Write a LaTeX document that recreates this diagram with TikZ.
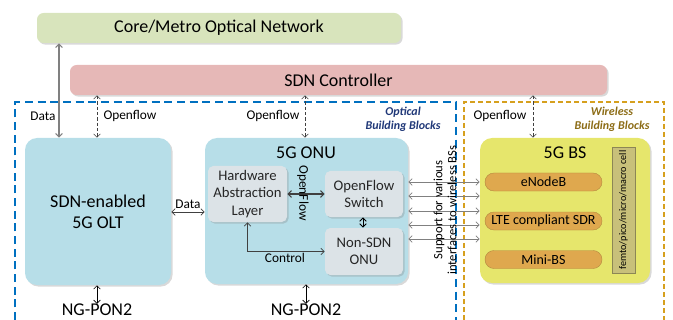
\documentclass[tikz,border=0pt]{standalone}
\usepackage{fontspec}
\setmainfont{Carlito}
\usetikzlibrary{arrows.meta, positioning, shadows, calc}
\definecolor{coregreen}{RGB}{216,228,188}
\definecolor{sdnpink}{RGB}{230,184,183}
\definecolor{ponblue}{RGB}{183,222,232}
\definecolor{blockgray}{RGB}{220,227,231}
\definecolor{bsyellow}{RGB}{230,230,108}
\definecolor{pillorange}{RGB}{223,168,78}
\definecolor{cellkhaki}{RGB}{200,192,122}
\definecolor{opticalblue}{RGB}{0,112,192}
\definecolor{wirelessgold}{RGB}{214,160,30}
\definecolor{opticaltext}{RGB}{32,56,120}
\definecolor{wirelesstext}{RGB}{140,108,22}
\definecolor{linegray}{RGB}{128,128,128}
\definecolor{linedark}{RGB}{64,64,64}

\tikzset{
  bigfont/.style={font=\fontsize{13.5}{15.5}\selectfont},
  midfont/.style={font=\fontsize{10}{11.5}\selectfont},
  blockfont/.style={font=\fontsize{11}{13}\selectfont},
  tagfont/.style={font=\fontsize{9}{10.5}\selectfont\bfseries\itshape},
  softshadow/.style={drop shadow={opacity=0.3, shadow xshift=1.2pt, shadow yshift=-1.2pt}},
  bar/.style={rounded corners=5pt, inner sep=0pt, minimum height=22.5pt, softshadow, bigfont},
  bigblock/.style={rounded corners=9pt, inner sep=0pt, softshadow, bigfont},
  subblock/.style={fill=blockgray, rounded corners=4pt, inner sep=0pt, align=center,
    minimum width=58.5pt, softshadow, blockfont, text=black!85},
  pill/.style={fill=pillorange, draw=pillorange!80!black, line width=0.3pt, rounded corners=6.7pt,
    inner sep=0pt, minimum width=87.75pt, minimum height=13.5pt, font=\fontsize{10.5}{12}\selectfont},
  tip/.style={{Straight Barb[length=2.5pt,width=5pt]}-{Straight Barb[length=2.5pt,width=5pt]}},
  dataline/.style={tip, draw=linegray, line width=0.9pt},
  flowline/.style={tip, draw=linedark, line width=0.5pt, dash pattern=on 2.5pt off 1.5pt},
  ifaceline/.style={tip, draw=linegray, line width=0.6pt},
  innerline/.style={tip, draw=linedark, line width=0.9pt},
  ponline/.style={tip, draw=black, line width=0.5pt},
  lbl/.style={midfont, inner sep=1pt},
}

\begin{document}
\begin{tikzpicture}[x=0.75pt, y=-0.75pt]
  \useasboundingbox (0,0) rectangle (673,320);

  % building block frames
  \draw[opticalblue, line width=1.1pt, dash pattern=on 6pt off 3.5pt]
    (15,320) -- (15,102) -- (456,102) -- (456,320);
  \draw[wirelessgold, line width=0.8pt, dash pattern=on 3.5pt off 2.5pt]
    (464,320) -- (464,102) -- (664,102) -- (664,320);
  \node[tagfont, text=opticaltext, align=center] (opticaltag) at (403,119) {Optical\\Building Blocks};
  \node[tagfont, text=wirelesstext, align=center] (wirelesstag) at (612,119) {Wireless\\Building Blocks};

  % top bars
  \node[bar, fill=coregreen, minimum width=273pt] (core) at (219,28) {Core/Metro Optical Network};
  \node[bar, fill=sdnpink, minimum width=402.75pt] (sdn) at (338.5,80) {SDN Controller};

  % OLT
  \node[bigblock, fill=ponblue, minimum width=109.5pt, minimum height=110.25pt, align=center] (olt) at (98,211.5) {SDN-enabled\\5G OLT};

  % ONU and its blocks
  \node[bigblock, fill=ponblue, minimum width=152.25pt, minimum height=109.5pt] (onu) at (306.5,211) {};
  \node[bigfont] (onutitle) at (306,153) {5G ONU};
  \node[subblock, minimum width=59.25pt, minimum height=42pt] (hal) at (247.5,194) {Hardware\\Abstraction\\Layer};
  \node[subblock, minimum height=34.5pt] (switch) at (364,194) {OpenFlow\\Switch};
  \node[subblock, minimum height=35.25pt] (nonsdn) at (364,251.5) {Non-SDN\\ONU};

  % 5G BS and its blocks
  \node[bigblock, fill=bsyellow, minimum width=127.5pt, minimum height=108.75pt] (bs) at (565,210.5) {};
  \node[bigfont] (bstitle) at (565,153) {5G BS};
  \node[pill] (enodeb) at (543.5,182) {eNodeB};
  \node[pill] (ltesdr) at (543.5,221) {LTE compliant SDR};
  \node[pill] (minibs) at (543.5,259.5) {Mini-BS};
  \node[fill=cellkhaki, draw=cellkhaki!70!black, line width=0.3pt, rotate=90, inner sep=0pt,
    minimum width=94.5pt, minimum height=17.25pt, font=\fontsize{7.6}{9}\selectfont] (cells) at (623.5,210) {femto/pico/micro/macro cell};

  % NG-PON2 labels
  \node[bigfont, inner sep=0pt] (pon1) at (97,310) {NG-PON2};
  \node[bigfont, inner sep=0pt] (pon2) at (306,310) {NG-PON2};

  % connectors to the top bars
  \draw[dataline] (core.south -| 59,0) -- (olt.north -| 59,0);
  \node[lbl] (datatag) at (43,116) {Data};
  \draw[flowline] (sdn.south -| 97,0) -- (olt.north -| 97,0);
  \node[lbl] (flowtag1) at (130,116) {Openflow};
  \draw[flowline] (sdn.south -| 305,0) -- (onu.north -| 305,0);
  \node[lbl] (flowtag2) at (273,116) {Openflow};
  \draw[flowline] (sdn.south -| 533,0) -- (bs.north -| 533,0);
  \node[lbl] (flowtag3) at (500,116) {Openflow};

  % OLT <-> ONU
  \draw[dataline, line width=0.6pt, draw=linedark] (olt.east |- 0,212) -- (onu.west |- 0,212);
  \node[lbl] (datatag2) at (188,204) {Data};

  % inside the ONU
  \draw[innerline] (hal.east) -- (switch.west |- hal.east);
  \node[lbl, rotate=-90] (oftag) at (303,193) {OpenFlow};
  \draw[innerline, draw=black, line width=0.7pt] (switch.south -| 363,0) -- (nonsdn.north -| 363,0);
  \draw[tip, draw=linedark, line width=0.6pt] (hal.south) |- (nonsdn.west);
  \node[lbl] (ctrltag) at (285,258) {Control};

  % ONU <-> 5G BS interfaces
  \foreach \y in {182,196,211,225,239}
    \draw[ifaceline] (onu.east |- 0,\y) -- (bs.west |- 0,\y);
  \node[lbl, rotate=90, align=center, font=\fontsize{9.5}{10.5}\selectfont] (ifacetag) at (445,210) {Support for various\\interfaces to wireless BSs};

  % NG-PON2 links
  \draw[ponline] (olt.south -| 97,0) -- (pon1.north -| 97,0);
  \draw[ponline] (onu.south -| 306,0) -- (pon2.north -| 306,0);
\end{tikzpicture}
\end{document}
